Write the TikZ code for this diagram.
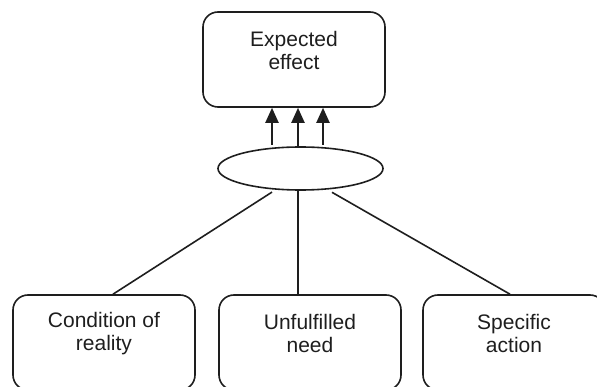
\documentclass[tikz,border=0pt]{standalone}
\usepackage{fontspec}
\setmainfont{Liberation Sans}
\usetikzlibrary{arrows.meta,shapes.geometric}
\definecolor{ink}{HTML}{1E1E1E}
\begin{document}
\begin{tikzpicture}[x=1pt,y=-1pt,
  line width=1.6pt, draw=ink,
  box/.style={draw=ink, rectangle, rounded corners=15pt,
    minimum width=182pt, minimum height=95pt, inner sep=0pt},
  lbl/.style={text=ink, align=center, inner sep=0pt,
    font=\fontsize{21pt}{23pt}\selectfont},
  hub/.style={draw=ink, ellipse, minimum width=165pt, minimum height=43pt, inner sep=0pt},
  arr/.style={-{Triangle[length=15pt,width=13pt]}, draw=ink, line width=2pt},
  link/.style={draw=ink}]
\useasboundingbox (0,0) rectangle (597,387);

% goal box and the joint hub
\node[box] (effect) at (294,59.5) {};
\node[lbl] (effecttxt) at ([yshift=9pt]effect.center) {Expected\\effect};
\node[hub] (hub) at (300.5,168.5) {};

% three sources
\node[box] (cond) at (104,342.5) {};
\node[lbl] (condtxt) at ([yshift=9pt]cond.center) {Condition of\\reality};
\node[box] (need) at (310,342.5) {};
\node[lbl] (needtxt) at ([yshift=9pt]need.center) {Unfulfilled\\need};
\node[box] (act) at (514,342.5) {};
\node[lbl] (acttxt) at ([yshift=9pt]act.center) {Specific\\action};

% arrows from the hub to the effect
\draw[arr] ([xshift=-28.5pt,yshift=1.3pt]hub.north) -- ([xshift=-22pt]effect.south);
\draw[arr] ([xshift=-2.5pt]hub.north) -- ([xshift=4pt]effect.south);
\draw[arr] ([xshift=22.5pt,yshift=1.2pt]hub.north) -- ([xshift=29pt]effect.south);

% links from the sources to the hub
\draw[link] ([xshift=-28.5pt,yshift=-1.3pt]hub.south) -- ([xshift=9pt]cond.north);
\draw[link] ([xshift=-2.5pt]hub.south) -- ([xshift=-12pt]need.north);
\draw[link] ([xshift=31.5pt,yshift=-1.5pt]hub.south) -- ([xshift=-4pt]act.north);
\end{tikzpicture}
\end{document}
